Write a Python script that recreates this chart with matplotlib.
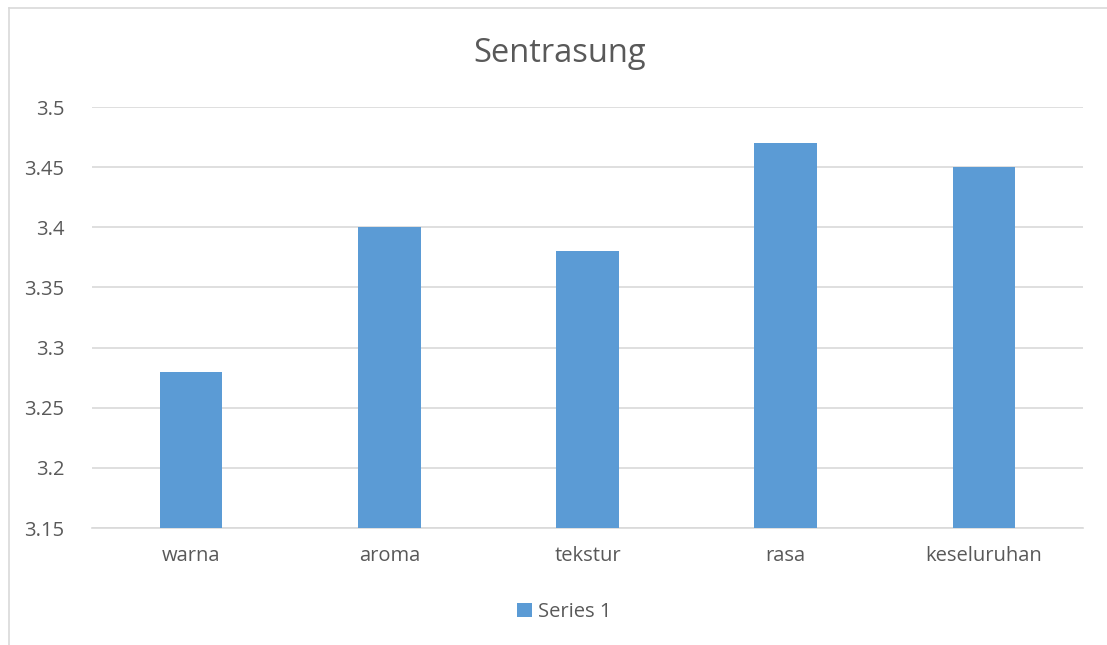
import matplotlib.pyplot as plt
from matplotlib.patches import Rectangle

# data
categories = ['warna', 'aroma', 'tekstur', 'rasa', 'keseluruhan']
values = [3.28, 3.40, 3.38, 3.47, 3.45]
yticks = [3.15, 3.2, 3.25, 3.3, 3.35, 3.4, 3.45, 3.5]
ytick_labels = ['3.15', '3.2', '3.25', '3.3', '3.35', '3.4', '3.45', '3.5']

plt.rcParams['font.family'] = ['Open Sans', 'DejaVu Sans']
W, H = 1107, 645
fig = plt.figure(figsize=(W / 100, H / 100), dpi=100)

# chart border: only the left and top edges are in the picture
fig.add_artist(plt.Line2D([9 / W, 9 / W], [0, (H - 8) / H], transform=fig.transFigure,
                          color='#D9D9D9', linewidth=1.2))
fig.add_artist(plt.Line2D([9 / W, 1], [(H - 8) / H, (H - 8) / H], transform=fig.transFigure,
                          color='#D9D9D9', linewidth=1.2))

ax = fig.add_axes([92 / W, (H - 528) / H, (1083 - 92) / W, (528 - 107) / H])
x = range(len(categories))
ax.bar(x, values, width=0.315, color='#5B9BD5', label='Series 1', zorder=3)
ax.set_xlim(-0.5, len(categories) - 0.5)
ax.set_ylim(3.15, 3.5)
ax.set_yticks(yticks)
ax.set_yticklabels(ytick_labels)
ax.set_xticks(list(x))
ax.set_xticklabels(categories)
ax.grid(axis='y', color='#D9D9D9', linewidth=1.2, zorder=0)
ax.tick_params(length=0, labelsize=14.5, colors='#595959')
ax.tick_params(axis='x', pad=13)
ax.tick_params(axis='y', pad=20)
for s in ['top', 'right', 'left']:
    ax.spines[s].set_visible(False)
ax.spines['bottom'].set_color('#D9D9D9')
ax.spines['bottom'].set_linewidth(1.2)

fig.text(560 / W, (H - 53) / H, 'Sentrasung', ha='center', va='center', fontsize=23.5, color='#595959')

ax.legend(loc='center', bbox_to_anchor=(564 / W, (H - 612) / H), bbox_transform=fig.transFigure,
          frameon=False, fontsize=14.5, labelcolor='#595959', handlelength=0.75, handleheight=0.75,
          handletextpad=0.3)

fig.savefig('out.png', dpi=100)
